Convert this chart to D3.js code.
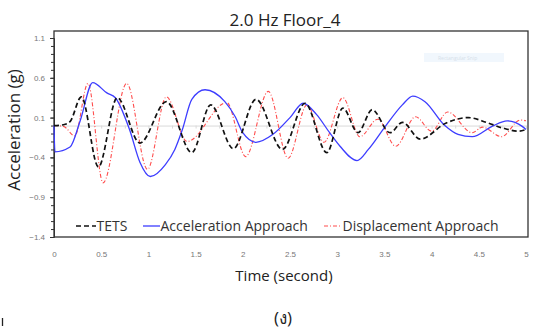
<!DOCTYPE html>
<html>
<head>
<meta charset="utf-8">
<script src="https://cdn.jsdelivr.net/npm/d3@7"></script>
<style>
  body { margin: 0; background: #fff; }
  svg { font-family: "Open Sans", "Noto Sans", sans-serif; }
</style>
</head>
<body>
<div class="chart"></div>
<script>
// readings taken off the figure (time in s, acceleration in g)
var tetsTime = [0, 0.1, 0.17, 0.29, 0.47, 0.67, 0.91, 1.19, 1.46, 1.66, 1.9, 2.14, 2.42, 2.66, 2.89, 3.06, 3.22, 3.37, 3.56, 3.69, 3.88, 4.15, 4.39, 4.58, 4.75, 4.92, 5.0];
var tetsAccel = [0, 0.01, 0.05, 0.36, -0.52, 0.35, -0.22, 0.3, -0.34, 0.26, -0.29, 0.33, -0.3, 0.28, -0.34, 0.22, -0.09, 0.2, -0.09, 0.04, -0.17, 0.03, 0.1, 0.04, -0.03, -0.07, -0.05];

var accTime = [0, 0.01, 0.17, 0.28, 0.41, 0.56, 0.65, 0.8, 0.91, 1.02, 1.18, 1.28, 1.36, 1.46, 1.6, 1.81, 1.92, 2.0, 2.14, 2.32, 2.5, 2.64, 2.78, 2.92, 3.03, 3.21, 3.33, 3.51, 3.69, 3.8, 3.93, 4.14, 4.28, 4.43, 4.64, 4.8, 4.96, 5.0];
var accAccel = [0, -0.33, -0.27, 0.07, 0.54, 0.41, 0.35, -0.05, -0.46, -0.64, -0.49, -0.3, -0.05, 0.33, 0.45, 0.3, 0.11, -0.09, -0.21, -0.11, 0.1, 0.28, 0.14, -0.09, -0.26, -0.44, -0.3, -0.01, 0.26, 0.37, 0.3, 0.0, -0.11, -0.14, -0.01, 0.06, -0.01, -0.05];

var dispTime = [0, 0.1, 0.22, 0.36, 0.52, 0.77, 0.99, 1.19, 1.41, 1.83, 2.03, 2.27, 2.48, 2.68, 2.86, 3.06, 3.24, 3.43, 3.62, 3.83, 4.0, 4.17, 4.43, 4.54, 4.74, 4.94, 5.0];
var dispAccel = [0, -0.01, -0.13, 0.53, -0.72, 0.53, -0.55, 0.36, -0.2, 0.29, -0.39, 0.43, -0.41, 0.26, -0.21, 0.35, -0.14, 0.08, -0.26, 0.11, -0.07, 0.17, -0.09, -0.02, -0.14, 0.07, 0.06];

var yTicks = [-1.4, -0.9, -0.4, 0.1, 0.6, 1.1];
var xTicks = [0, 0.5, 1, 1.5, 2, 2.5, 3, 3.5, 4, 4.5, 5];

var svgWidth = 533;
var svgHeight = 329;

var svg = d3.select(".chart")
  .append("svg")
  .attr("width", svgWidth)
  .attr("height", svgHeight);

var xScale = d3.scaleLinear().domain([0, 5]).range([54, 526]);
var yScale = d3.scaleLinear().domain([-1.4, 1.1]).range([237, 38]);

// plot frame
svg.append("rect")
  .attr("x", 54)
  .attr("y", 31)
  .attr("width", 474)
  .attr("height", 206)
  .attr("fill", "none")
  .attr("stroke", "#333")
  .attr("stroke-width", 1.3);

// faint leftover snip box
svg.append("rect")
  .attr("x", 424).attr("y", 53).attr("width", 80).attr("height", 9)
  .attr("fill", "#f1f7fd");
svg.append("text")
  .attr("x", 438).attr("y", 60)
  .attr("font-size", "5px")
  .attr("fill", "#d6dfea")
  .text("Rectangular Snip");

// zero line with its tick marks
var zeroAxis = svg.append("g")
  .attr("transform", `translate(0, ${yScale(0)})`)
  .call(d3.axisBottom(xScale).tickValues(d3.range(0, 5.01, 0.25)).tickSize(3).tickFormat(""));
zeroAxis.selectAll("path, line").attr("stroke", "#d9d9d9");

// x tick labels along bottom
svg.append("g")
  .attr("transform", "translate(0, 237)")
  .call(d3.axisBottom(xScale).tickValues(xTicks).tickSize(0).tickPadding(14).tickFormat(d3.format("")))
  .call(g => g.select(".domain").remove())
  .selectAll("text")
  .attr("font-size", "8px")
  .attr("fill", "#777");

// y axis, major + minor ticks
svg.append("g")
  .attr("transform", "translate(54, 0)")
  .call(d3.axisLeft(yScale).tickValues(d3.range(-1.4, 1.19, 0.1)).tickSize(3).tickFormat(""))
  .selectAll("path, line").attr("stroke", "#333");
var yAxis = svg.append("g")
  .attr("transform", "translate(54, 0)")
  .call(d3.axisLeft(yScale).tickValues(yTicks).tickSize(4).tickPadding(5).tickFormat(d3.format("")));
yAxis.select(".domain").remove();
yAxis.selectAll("line").attr("stroke", "#333");
yAxis.selectAll("text").attr("font-size", "8px").attr("fill", "#777");

var line = d3.line()
  .x(d => xScale(d[0]))
  .y(d => yScale(d[1]))
  .curve(d3.curveMonotoneX);

var series = [
  { name: "Displacement Approach", t: dispTime, v: dispAccel, color: "#ff4d4d", width: 1.1, dash: "4,2,1,2" },
  { name: "Acceleration Approach", t: accTime, v: accAccel, color: "#3d3dff", width: 1.3, dash: null },
  { name: "TETS", t: tetsTime, v: tetsAccel, color: "#111", width: 1.7, dash: "5,3" }
];

series.forEach(function(s) {
  svg.append("path")
    .datum(s.t.map((t, i) => [t, s.v[i]]))
    .attr("d", line)
    .attr("fill", "none")
    .attr("stroke", s.color)
    .attr("stroke-width", s.width)
    .attr("stroke-dasharray", s.dash);
});

// legend inside the plot
var legend = [
  { name: "TETS", x1: 76, x2: 96, color: "#111", width: 1.7, dash: "5,3" },
  { name: "Acceleration Approach", x1: 143, x2: 160, color: "#3d3dff", width: 1.3, dash: null },
  { name: "Displacement Approach", x1: 324, x2: 342, color: "#ff4d4d", width: 1.1, dash: "4,2,1,2" }
];
legend.forEach(function(l) {
  svg.append("line")
    .attr("x1", l.x1).attr("x2", l.x2)
    .attr("y1", 226).attr("y2", 226)
    .attr("stroke", l.color)
    .attr("stroke-width", l.width)
    .attr("stroke-dasharray", l.dash);
  svg.append("text")
    .attr("x", l.x2 + 0.5)
    .attr("y", 231)
    .attr("font-size", "14px")
    .attr("fill", "#333")
    .text(l.name);
});

// titles
svg.append("text")
  .attr("x", 285).attr("y", 26)
  .attr("text-anchor", "middle")
  .attr("font-size", "17px")
  .attr("fill", "#222")
  .text("2.0 Hz Floor_4");

svg.append("text")
  .attr("transform", "rotate(-90)")
  .attr("x", -130).attr("y", 20)
  .attr("text-anchor", "middle")
  .attr("font-size", "17px")
  .attr("fill", "#222")
  .text("Acceleration (g)");

svg.append("text")
  .attr("x", 284).attr("y", 281)
  .attr("text-anchor", "middle")
  .attr("font-size", "15px")
  .attr("fill", "#222")
  .text("Time (second)");

svg.append("text")
  .attr("x", 283).attr("y", 324)
  .attr("text-anchor", "middle")
  .attr("font-size", "17px")
  .attr("fill", "#222")
  .text("(ง)");

svg.append("line")
  .attr("x1", 2.5).attr("x2", 2.5)
  .attr("y1", 318).attr("y2", 326)
  .attr("stroke", "#222")
  .attr("stroke-width", 1.3);
</script>
</body>
</html>
